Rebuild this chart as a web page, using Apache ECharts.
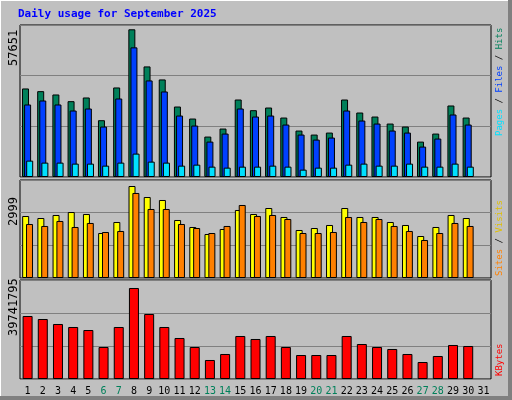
<!DOCTYPE html>
<html><head><meta charset="utf-8">
<script src="https://cdn.jsdelivr.net/npm/echarts@6/dist/echarts.min.js"></script>
<style>html,body{margin:0;padding:0;background:#c0c0c0}#c{width:512px;height:400px}</style>
</head><body><div id="c"></div>
<script>
const days = Array.from({length:31},(_,i)=>String(i+1));
const weekend = ['6','7','13','14','20','21','27','28'];
const hits = [34560,33510,32210,29600,31040,22170,34950,57651,43160,38080,27510,22820,15780,18910,30250,26080,27120,23210,18130,16560,17340,30250,25170,23600,20860,19690,13820,16950,27910,23210];
const files = [28300,29860,28300,25950,26730,19690,30640,50600,37690,33380,23990,20080,13820,16950,26730,23600,23990,20470,16560,14600,15390,25950,22040,20860,18130,17340,11870,15000,24390,20470];
const pages = [6390,5610,5610,5220,5220,4430,5610,9130,6000,5610,4430,4820,4040,3650,4040,4040,4430,4040,2870,3650,3650,4820,5220,4430,4430,5220,4040,4040,5220,4040];
const visits = [2021,1956,2054,2151,2086,1467,1826,2999,2640,2543,1891,1663,1434,1597,2217,2086,2282,1989,1565,1630,1728,2282,1989,1989,1826,1728,1369,1663,2054,1956];
const sites = [1761,1696,1859,1663,1794,1500,1533,2772,2250,2250,1761,1630,1467,1696,2380,2022,2054,1924,1467,1467,1500,1989,1826,1924,1696,1533,1239,1467,1794,1696];
const kbytes = [27513000,26203000,24020000,22710000,21399000,13975000,22710000,39741795,28387000,22710000,17906000,13975000,8298000,10918000,18779000,17469000,18779000,13975000,10481000,10481000,10481000,18779000,15285000,13975000,13102000,10918000,7424000,10045000,14849000,14412000];
const maxLabels = ['57651','2999','39741795'];

const mono = 'DejaVu Sans Mono';
const ymax = [59330, 3195, 43235000];
const grids = [
  {left:20,right:21,top:25,height:152},
  {left:20,right:21,top:180,height:98},
  {left:20,right:21,top:280,height:99}
].map(g=>Object.assign(g,{show:true,backgroundColor:'#c0c0c0',borderColor:'#000',borderWidth:1}));
const xAxes = [0,1,2].map(i=>({type:'category',gridIndex:i,data:days,
  axisLine:{show:false},axisTick:{show:false},
  axisLabel:{show:i===2,interval:0,fontFamily:mono,fontSize:10,margin:7,
    color:(v)=>weekend.includes(v)?'#00805a':'#000'}}));
const yAxes = [0,1,2].map(i=>({type:'value',gridIndex:i,min:0,max:ymax[i],interval:ymax[i]/3,
  axisLabel:{show:false},axisLine:{show:false},axisTick:{show:false},
  splitLine:{show:true,lineStyle:{color:'#808080',width:1}}}));
const bs = (name,data,color,i,w,gap)=>({type:'bar',name,data,xAxisIndex:i,yAxisIndex:i,barWidth:w,barGap:gap,
  itemStyle:{color,borderColor:'#000',borderWidth:1},animation:false});
const series = [
  bs('Hits',hits,'#00805a',0,7,'-70%'),
  bs('Files',files,'#0040ff',0,7,'-70%'),
  bs('Pages',pages,'#00e0ff',0,7,'-70%'),
  bs('Visits',visits,'#ffff00',1,7,'-45%'),
  bs('Sites',sites,'#ff8000',1,7,'-45%'),
  bs('KBytes',kbytes,'#ff0000',2,10,'0%')
];
const rot = Math.PI/2;
const f9 = '9px "DejaVu Sans Mono"';
const graphic = [
  {type:'rect',shape:{x:0,y:0,width:512,height:400},style:{fill:'none',stroke:'#fff',lineWidth:2},z:-1},
  {type:'line',shape:{x1:510,y1:0,x2:510,y2:400},style:{stroke:'#808080',lineWidth:4}},
  {type:'line',shape:{x1:0,y1:398,x2:512,y2:398},style:{stroke:'#808080',lineWidth:4}},
  {type:'text',left:18,top:9,style:{text:'Daily usage for September 2025',fill:'#0000ff',font:'bold 11px "DejaVu Sans Mono"'}},
  {type:'text',x:8,y:66,rotation:rot,style:{text:maxLabels[0],fill:'#000',font:'12px "DejaVu Sans Mono"'}},
  {type:'text',x:8,y:226,rotation:rot,style:{text:maxLabels[1],fill:'#000',font:'12px "DejaVu Sans Mono"'}},
  {type:'text',x:8,y:336,rotation:rot,style:{text:maxLabels[2],fill:'#000',font:'12px "DejaVu Sans Mono"'}},
  {type:'text',x:495,y:136,rotation:rot,style:{text:'{a|Pages}{b| / }{c|Files}{b| / }{d|Hits}',font:f9,
    rich:{a:{fill:'#00e0ff',font:f9},b:{fill:'#000',font:f9},c:{fill:'#0040ff',font:f9},d:{fill:'#00805a',font:f9}}}},
  {type:'text',x:495,y:276,rotation:rot,style:{text:'{a|Sites}{b| / }{c|Visits}',font:f9,
    rich:{a:{fill:'#ff8000',font:f9},b:{fill:'#000',font:f9},c:{fill:'#e0c000',font:f9}}}},
  {type:'text',x:495,y:376,rotation:rot,style:{text:'KBytes',fill:'#ff0000',font:f9}}
];
const chart = echarts.init(document.getElementById('c'));
chart.setOption({backgroundColor:'#c0c0c0',animation:false,grid:grids,xAxis:xAxes,yAxis:yAxes,series,graphic});
</script></body></html>
